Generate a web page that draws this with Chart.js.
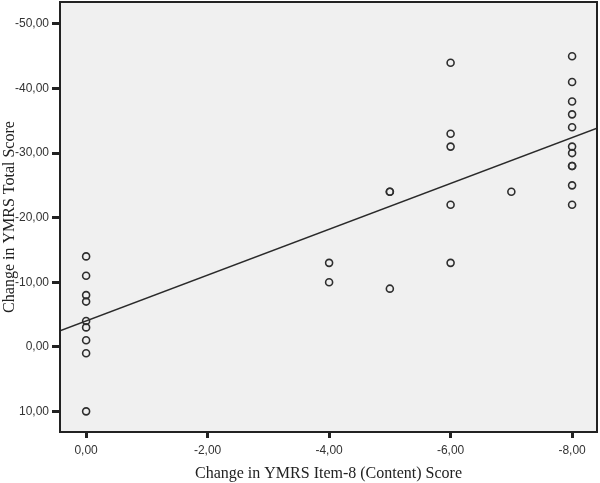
<!DOCTYPE html>
<html><head><meta charset="utf-8">
<script src="https://cdn.jsdelivr.net/npm/chart.js@4.4.1/dist/chart.umd.min.js"></script>
<style>html,body{margin:0;padding:0;background:#fff;}#wrap{width:600px;height:483px;}</style>
</head><body><div id="wrap"><canvas id="c" width="600" height="483"></canvas></div>
<script>
// Data (x = change in item-8, y = change in total score)
const itemChange = [0,0,0,0,0,0,0,0,0, -4,-4, -5,-5,-5, -6,-6,-6,-6,-6, -7, -8,-8,-8,-8,-8,-8,-8,-8,-8,-8,-8];
const totalChange = [-14,-11,-8,-7,-4,-3,-1,1,10, -13,-10, -24,-24,-9, -44,-33,-31,-22,-13, -24, -45,-41,-38,-36,-34,-31,-30,-28,-28,-25,-22];
const xTicks = [0,-2,-4,-6,-8];
const yTicks = [-50,-40,-30,-20,-10,0,10];
const xRange = [-8.41, 0.43];
const yRange = [-53.4, 13.2];
const fitIntercept = -4.0;
const fitSlope = 3.55;

const points = itemChange.map((x,i)=>({x:x,y:totalChange[i]}));
const fitLine = xRange.map(x=>({x:x,y:fitIntercept+fitSlope*x}));
const fmt = v => (Math.abs(v)<1e-9?0:v).toFixed(2).replace('.',',');

const boxPlugin = {
  id:'box',
  beforeDatasetsDraw(chart){
    const {ctx,chartArea:a}=chart; ctx.save(); ctx.fillStyle='#f0f0f0';
    ctx.fillRect(a.left,a.top,a.right-a.left,a.bottom-a.top); ctx.restore();
  },
  afterDraw(chart){
    const {ctx,chartArea:a}=chart; ctx.save(); ctx.strokeStyle='#222'; ctx.lineWidth=2;
    ctx.strokeRect(a.left,a.top,a.right-a.left,a.bottom-a.top); ctx.restore();
  }
};

new Chart(document.getElementById('c'),{
  type:'scatter',
  data:{datasets:[
    {type:'line',data:fitLine,borderColor:'#2a2a2a',borderWidth:1.5,pointRadius:0,fill:false,order:2},
    {data:points,pointRadius:3.5,pointHoverRadius:3.5,pointBorderWidth:1.6,pointBorderColor:'#2e2e2e',pointBackgroundColor:'rgba(0,0,0,0)',order:1}
  ]},
  options:{
    responsive:false,animation:false,
    layout:{autoPadding:false,padding:{left:0,right:3,top:2,bottom:0}},
    plugins:{legend:{display:false},tooltip:{enabled:false}},
    scales:{
      x:{type:'linear',reverse:true,min:xRange[0],max:xRange[1],
        afterBuildTicks(s){s.ticks=xTicks.map(v=>({value:v}));},
        afterFit(s){s.height=51;s.paddingLeft=0;s.paddingRight=0;},
        grid:{drawOnChartArea:false,tickLength:6,tickWidth:3,tickColor:'#222'},
        border:{display:false},
        ticks:{callback:v=>fmt(v),color:'#333',font:{family:'Liberation Sans',size:12},padding:5,maxRotation:0},
        title:{display:true,text:'Change in YMRS Item-8 (Content) Score',color:'#222',font:{family:'Liberation Serif',size:16},padding:{top:0,bottom:0}}
      },
      y:{type:'linear',reverse:true,min:yRange[0],max:yRange[1],
        afterBuildTicks(s){s.ticks=yTicks.map(v=>({value:v}));},
        afterFit(s){s.width=60;s.paddingTop=0;s.paddingBottom=0;},
        grid:{drawOnChartArea:false,tickLength:8,tickWidth:3,tickColor:'#222'},
        border:{display:false},
        ticks:{callback:v=>fmt(v),color:'#333',font:{family:'Liberation Sans',size:12},padding:3},
        title:{display:true,text:'Change in YMRS Total Score',color:'#222',font:{family:'Liberation Serif',size:16},padding:{top:0,bottom:0}}
      }
    }
  },
  plugins:[boxPlugin]
});
</script></body></html>
